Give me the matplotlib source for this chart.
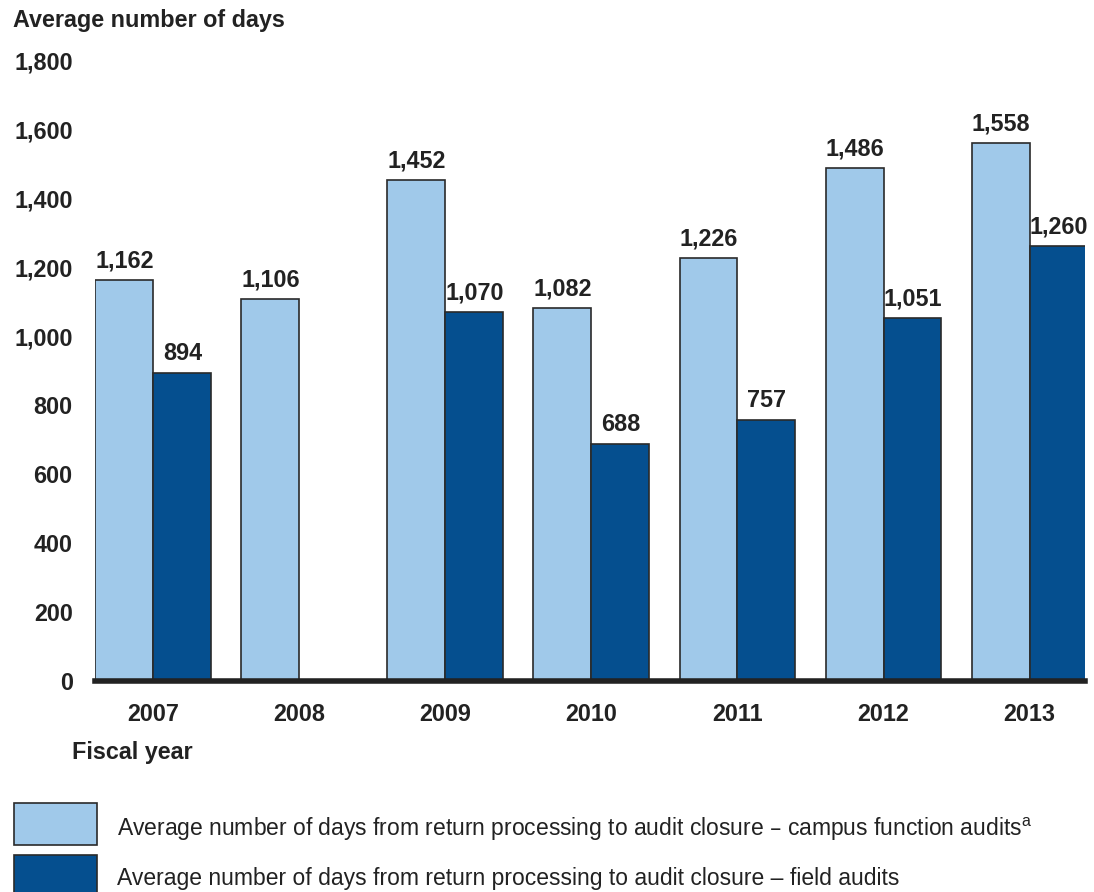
import matplotlib
matplotlib.use("Agg")
import matplotlib.pyplot as plt
from matplotlib.patches import Rectangle
import numpy as np

plt.rcParams['font.family'] = ['Liberation Sans', 'DejaVu Sans']

years = ["2007", "2008", "2009", "2010", "2011", "2012", "2013"]
campus = [1162, 1106, 1452, 1082, 1226, 1486, 1558]
field = [894, None, 1070, 688, 757, 1051, 1260]
yticks = [0, 200, 400, 600, 800, 1000, 1200, 1400, 1600, 1800]

light = "#A0C9EA"
dark = "#054F8F"
edge = "#2a2a2a"
FS = 16.8

fig = plt.figure(figsize=(10.94, 8.92), dpi=100)
ax = fig.add_axes([0.0868, 1 - 681 / 892, 0.9050, 621 / 892])

x = np.arange(len(years))
w = 0.397
for i, (c, f) in enumerate(zip(campus, field)):
    ax.bar(x[i] - w / 2, c, width=w, color=light, edgecolor=edge, linewidth=1.2, zorder=2)
    ax.annotate(f"{c:,}", (x[i] - w / 2, c), xytext=(0, 5.5), textcoords="offset points",
                ha="center", va="bottom", fontsize=FS, fontweight="bold", color="#222222")
    if f is not None:
        ax.bar(x[i] + w / 2, f, width=w, color=dark, edgecolor=edge, linewidth=1.2, zorder=2)
        ax.annotate(f"{f:,}", (x[i] + w / 2, f), xytext=(0, 5.5), textcoords="offset points",
                    ha="center", va="bottom", fontsize=FS, fontweight="bold", color="#222222")

ax.set_xlim(-0.4, 6.38)
ax.set_ylim(0, 1800)
ax.set_xticks(x)
ax.set_xticklabels(years, fontsize=FS, fontweight="bold", color="#222222")
ax.set_yticks(yticks)
ax.set_yticklabels([f"{v:,}" for v in yticks], fontsize=FS, fontweight="bold", color="#222222")
ax.tick_params(axis="both", length=0)
ax.tick_params(axis="y", pad=16)
ax.tick_params(axis="x", pad=16)
for s in ["top", "right", "left"]:
    ax.spines[s].set_visible(False)
ax.spines["bottom"].set_linewidth(4)
ax.spines["bottom"].set_color("#222222")
ax.spines["bottom"].set_zorder(3)

fig.text(13 / 1094, 1 - 20 / 892, "Average number of days", fontsize=FS, fontweight="bold",
         color="#222222", ha="left", va="center")
fig.text(72 / 1094, 1 - 753 / 892, "Fiscal year", fontsize=FS, fontweight="bold",
         color="#222222", ha="left", va="center")

# Legend
fig.patches.append(Rectangle((14 / 1094, 1 - 845 / 892), 83 / 1094, 42 / 892,
                             transform=fig.transFigure, facecolor=light, edgecolor=edge, linewidth=1.2))
fig.patches.append(Rectangle((14 / 1094, 1 - 895 / 892), 83 / 1094, 40 / 892,
                             transform=fig.transFigure, facecolor=dark, edgecolor=edge, linewidth=1.2))
fig.text(117 / 1094, 1 - 829 / 892,
         "Average number of days from return processing to audit closure – campus function audits$^{\\mathregular{a}}$",
         fontsize=16.5, color="#222222", ha="left", va="center")
fig.text(117 / 1094, 1 - 879 / 892,
         "Average number of days from return processing to audit closure – field audits",
         fontsize=16.5, color="#222222", ha="left", va="center")

fig.savefig("out.png", dpi=100)
